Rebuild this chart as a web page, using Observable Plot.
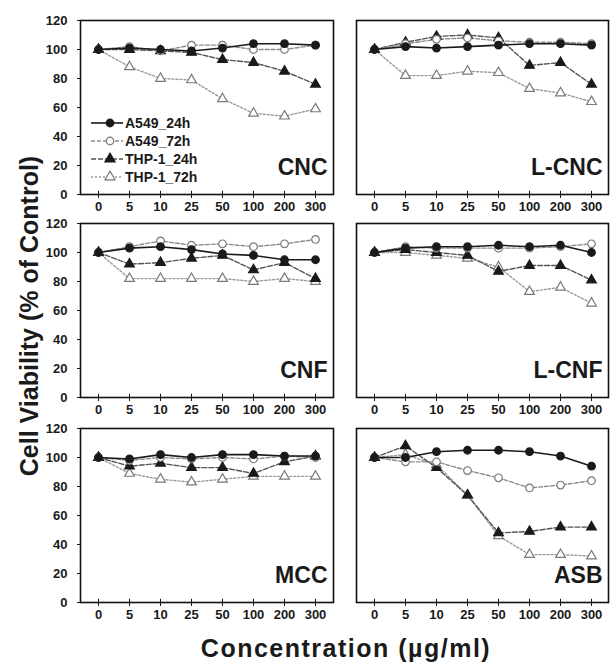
<!DOCTYPE html>
<html><head><meta charset="utf-8">
<script src="https://cdn.jsdelivr.net/npm/d3@7"></script>
<script src="https://cdn.jsdelivr.net/npm/@observablehq/plot@0.6"></script>
<style>
body{margin:0;background:#fff;}
#chart{position:relative;width:610px;height:666px;background:#fff;font-family:"Liberation Sans",Arial,sans-serif;overflow:hidden;color:#1a1a1a}
.panel{position:absolute}
#titles{position:absolute;left:0;top:0;pointer-events:none}
#legend{position:absolute;left:86px;top:112px}
</style></head><body><div id="chart"></div>
<script>
// ---- data ----
const concentrations = ["0", "5", "10", "25", "50", "100", "200", "300"];
const seriesNames = ["A549_24h", "A549_72h", "THP-1_24h", "THP-1_72h"];
const yTicks = [0, 20, 40, 60, 80, 100, 120];
const panelNames = ["CNC", "L-CNC", "CNF", "L-CNF", "MCC", "ASB"];
const yTitle = "Cell Viability (% of Control)";
const xTitle = "Concentration (µg/ml)";
// rows: A549_24h, A549_72h, THP-1_24h, THP-1_72h
const cncValues = [
  [100, 101, 100, 99, 101, 104, 104, 103],
  [100, 102, 99, 103, 103, 100, 100, 103],
  [100, 100, 99, 98, 93, 91, 85, 76],
  [100, 88, 80, 79, 66, 56, 54, 59]
];
const lcncValues = [
  [100, 102, 101, 102, 103, 104, 104, 103],
  [100, 104, 107, 108, 106, 105, 105, 104],
  [100, 105, 109, 110, 108, 89, 91, 76],
  [100, 82, 82, 85, 84, 73, 70, 64]
];
const cnfValues = [
  [100, 103, 104, 102, 99, 98, 95, 95],
  [100, 104, 108, 105, 106, 104, 106, 109],
  [100, 92, 93, 96, 98, 88, 93, 82],
  [100, 82, 82, 82, 82, 80, 82, 80]
];
const lcnfValues = [
  [100, 103, 104, 104, 105, 104, 105, 100],
  [100, 104, 103, 103, 103, 103, 104, 106],
  [100, 102, 100, 98, 87, 91, 91, 81],
  [100, 100, 98, 96, 90, 73, 76, 65]
];
const mccValues = [
  [100, 99, 102, 100, 102, 102, 101, 101],
  [100, 98, 100, 99, 100, 99, 101, 100],
  [100, 94, 96, 93, 93, 89, 97, 101],
  [100, 89, 85, 83, 85, 87, 87, 87]
];
const asbValues = [
  [100, 100, 104, 105, 105, 104, 101, 94],
  [100, 97, 97, 91, 86, 79, 81, 84],
  [100, 108, 93, 74, 48, 49, 52, 52],
  [100, 102, 95, 74, 46, 33, 33, 32]
];
const panelValues = [cncValues, lcncValues, cnfValues, lcnfValues, mccValues, asbValues];

// ---- styles ----
const seriesStyle = [
  {stroke: "#1a1a1a", dash: null, symbol: "circle", fill: "#1a1a1a", mstroke: "#1a1a1a", r: 3.8, sw: 1.6},
  {stroke: "#8c8c8c", dash: "4,2", symbol: "circle", fill: "#ffffff", mstroke: "#7a7a7a", r: 3.8, sw: 1.4},
  {stroke: "#555555", dash: "5,2", symbol: "triangle", fill: "#1a1a1a", mstroke: "#1a1a1a", r: 3.6, sw: 1.4},
  {stroke: "#9a9a9a", dash: "2,2", symbol: "triangle", fill: "#ffffff", mstroke: "#7a7a7a", r: 3.6, sw: 1.4}
];
const FONT = "'Liberation Sans', Arial, sans-serif";
const chart = document.getElementById("chart");

const colLayout = [
  {left: 0, width: 340, marginLeft: 80, marginRight: 7, labels: true},
  {left: 340, width: 270, marginLeft: 16, marginRight: 2, labels: false}
];
const rowTops = [14, 217, 422];

panelNames.forEach((name, p) => {
  const col = colLayout[p % 2];
  const top = rowTops[Math.floor(p / 2)];
  const values = panelValues[p];
  const rows = seriesNames.flatMap((s, i) => concentrations.map((c, j) => ({series: s, conc: c, value: values[i][j]})));
  const marks = [
    Plot.axisY({ticks: yTicks, tickSize: col.labels ? 3 : 0, tickPadding: col.labels ? 10 : 0,
      tickFormat: col.labels ? (d => d) : (() => ""), label: null, fontSize: 13, fontWeight: "bold"}),
    Plot.axisX({tickSize: 4, tickPadding: 3, label: null, fontSize: 13, fontWeight: "bold"}),
    Plot.ruleX(concentrations, {x: d => d, y1: 0, y2: 2.2, stroke: "#111", strokeWidth: 1})
  ];
  [3, 2, 1, 0].forEach(i => {
    const st = seriesStyle[i];
    const d = rows.filter(r => r.series === seriesNames[i]);
    marks.push(Plot.line(d, {x: "conc", y: "value", stroke: st.stroke, strokeWidth: st.sw, strokeDasharray: st.dash}));
  });
  [3, 2, 1, 0].forEach(i => {
    const st = seriesStyle[i];
    const d = rows.filter(r => r.series === seriesNames[i]);
    marks.push(Plot.dot(d, {x: "conc", y: "value", symbol: () => st.symbol, r: st.r, fill: st.fill, stroke: st.mstroke, strokeWidth: 1.2}));
  });
  marks.push(Plot.frame({stroke: "#111", strokeWidth: 1.6}));
  marks.push(Plot.text([name], {text: d => d, frameAnchor: "bottom-right", textAnchor: "end", lineAnchor: "bottom",
    dx: -6, dy: -20, fontSize: 23, fontWeight: "bold", fill: "#1a1a1a"}));
  const svg = Plot.plot({
    width: col.width, height: 204,
    marginLeft: col.marginLeft, marginRight: col.marginRight, marginTop: 6, marginBottom: 24,
    x: {type: "point", domain: concentrations, padding: 0.5},
    y: {domain: [0, 120]},
    symbol: {type: "identity"},
    style: {fontFamily: FONT, fontSize: "13px", fontWeight: "bold", background: "transparent", color: "#1a1a1a", overflow: "visible"},
    marks
  });
  svg.classList.add("panel");
  svg.style.left = col.left + "px";
  svg.style.top = top + "px";
  chart.appendChild(svg);
});

// legend (inside CNC panel)
const NS = "http://www.w3.org/2000/svg";
const leg = document.createElementNS(NS, "svg");
leg.setAttribute("id", "legend");
leg.setAttribute("width", 120);
leg.setAttribute("height", 76);
const symPath = {circle: d3.symbol(d3.symbolCircle, 45)(), triangle: d3.symbol(d3.symbolTriangle, 45)()};
seriesNames.forEach((s, i) => {
  const st = seriesStyle[i];
  const y = 11 + i * 18;
  const g = document.createElementNS(NS, "g");
  const ln = document.createElementNS(NS, "line");
  ln.setAttribute("x1", 5); ln.setAttribute("x2", 37); ln.setAttribute("y1", y); ln.setAttribute("y2", y);
  ln.setAttribute("stroke", st.stroke); ln.setAttribute("stroke-width", st.sw);
  if (st.dash) ln.setAttribute("stroke-dasharray", st.dash);
  g.appendChild(ln);
  const m = document.createElementNS(NS, "path");
  m.setAttribute("d", symPath[st.symbol]);
  m.setAttribute("transform", `translate(24,${y})`);
  m.setAttribute("fill", st.fill); m.setAttribute("stroke", st.mstroke); m.setAttribute("stroke-width", 1.2);
  g.appendChild(m);
  const t = document.createElementNS(NS, "text");
  t.setAttribute("x", 39); t.setAttribute("y", y); t.setAttribute("dy", "0.36em");
  t.setAttribute("font-family", FONT); t.setAttribute("font-size", 14); t.setAttribute("font-weight", "bold");
  t.setAttribute("fill", "#1a1a1a");
  t.textContent = s;
  g.appendChild(t);
  leg.appendChild(g);
});
chart.appendChild(leg);

// axis titles
const titles = document.createElementNS(NS, "svg");
titles.setAttribute("id", "titles");
titles.setAttribute("width", 610);
titles.setAttribute("height", 666);
const yt = document.createElementNS(NS, "text");
yt.setAttribute("transform", "translate(38,316) rotate(-90)");
yt.setAttribute("text-anchor", "middle");
yt.setAttribute("font-family", FONT); yt.setAttribute("font-size", 25); yt.setAttribute("font-weight", "bold");
yt.setAttribute("fill", "#1a1a1a");
yt.textContent = yTitle;
titles.appendChild(yt);
const xt = document.createElementNS(NS, "text");
xt.setAttribute("x", 346); xt.setAttribute("y", 657);
xt.setAttribute("text-anchor", "middle");
xt.setAttribute("font-family", FONT); xt.setAttribute("font-size", 25); xt.setAttribute("font-weight", "bold");
xt.setAttribute("letter-spacing", "1.5");
xt.setAttribute("fill", "#1a1a1a");
xt.textContent = xTitle;
titles.appendChild(xt);
chart.appendChild(titles);
</script></body></html>
